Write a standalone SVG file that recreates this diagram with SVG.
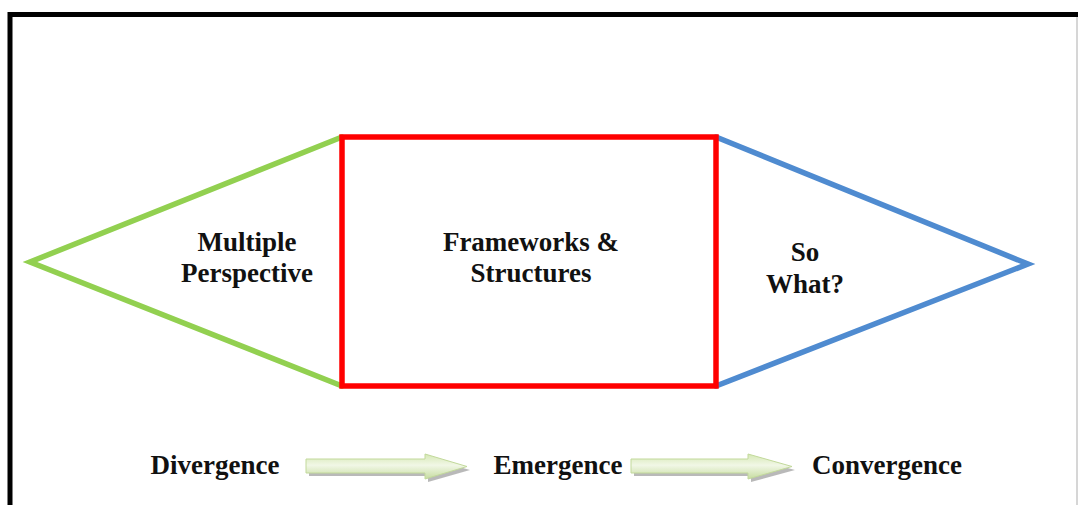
<svg xmlns="http://www.w3.org/2000/svg" width="1078" height="505" viewBox="0 0 1078 505">
<style>
.lbl{font-family:"Liberation Serif","Times New Roman",serif;font-weight:bold;font-size:27px;fill:#111;text-anchor:middle}
.edge{fill:none;stroke-width:5.5;stroke-linejoin:miter;stroke-linecap:round}
.arr{fill:url(#ag);stroke:#c2d99b;stroke-width:1}
.shd{fill:#8a8a8a;opacity:0.6}
</style>
<defs>
<linearGradient id="ag" x1="0" y1="0" x2="0" y2="1">
<stop offset="0" stop-color="#d5e8b4"/>
<stop offset="0.45" stop-color="#f1f7e6"/>
<stop offset="1" stop-color="#c6dca0"/>
</linearGradient>
</defs>
<rect x="0" y="0" width="1078" height="505" fill="#fff"/>
<g id="frame">
<path d="M10,505 V14.5 H1078" fill="none" stroke="#000" stroke-width="5"/>
<line x1="1077" y1="17" x2="1077" y2="505" stroke="#c8c8c8" stroke-width="1.5"/>
</g>
<g id="connectors">
<path class="edge" stroke="#92d050" d="M342,137 L30,262 L342,386"/>
<path class="edge" stroke="#4f8bd0" d="M716,137 L1028,264 L716,386"/>
</g>
<g id="node-frameworks">
<rect x="342" y="137" width="374" height="249" fill="none" stroke="#ff0000" stroke-width="5.5"/>
<text class="lbl" x="531" y="251">Frameworks &amp;</text>
<text class="lbl" x="531" y="282">Structures</text>
</g>
<g id="node-multiple">
<text class="lbl" x="247" y="251">Multiple</text>
<text class="lbl" x="247" y="282">Perspective</text>
</g>
<g id="node-sowhat">
<text class="lbl" x="805" y="261">So</text>
<text class="lbl" x="805" y="293">What?</text>
</g>
<g id="node-divergence"><text class="lbl" x="215" y="474">Divergence</text></g>
<g id="node-emergence"><text class="lbl" x="558" y="474">Emergence</text></g>
<g id="node-convergence"><text class="lbl" x="887" y="474">Convergence</text></g>
<g id="arrow-1">
<polygon class="shd" points="309,462 428,462 428,458 470,470 428,482 428,476 309,476"/>
<polygon class="arr" points="306,459 425,459 425,454 467,466.5 425,479 425,473 306,473"/>
</g>
<g id="arrow-2">
<polygon class="shd" points="634,462 751,462 751,458 795,470 751,482 751,476 634,476"/>
<polygon class="arr" points="631,459 748,459 748,454 792,466.5 748,479 748,473 631,473"/>
</g>
</svg>
